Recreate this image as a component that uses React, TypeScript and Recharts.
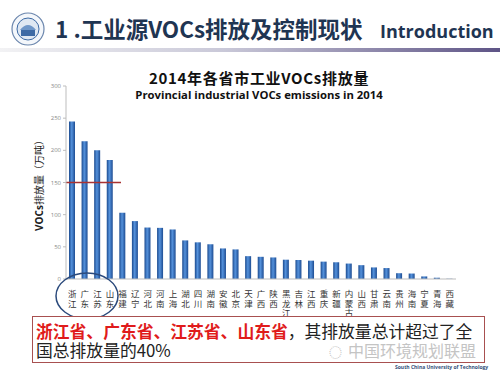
import { BarChart, Bar, XAxis, YAxis, ReferenceLine } from 'recharts';

// province names, in the order drawn
const provinces = [
  '浙江', '广东', '江苏', '山东', '福建', '辽宁', '河北', '河南', '上海', '湖北',
  '四川', '湖南', '安徽', '北京', '天津', '广西', '陕西', '黑龙江', '吉林', '江西',
  '重庆', '新疆', '内蒙古', '山西', '甘肃', '云南', '贵州', '海南', '宁夏', '青海', '西藏'
];

// industrial VOCs emissions, 10k tonnes
const emissions = [
  245, 214, 200, 185, 103, 90, 80, 79.5, 77, 60,
  57, 54, 47.5, 46, 35.5, 34.5, 33.5, 30, 29.5, 28.5,
  27, 26, 24, 21.5, 18, 17, 9, 8.5, 4, 2, 0.4
];

const yTicks = [0, 50, 100, 150, 200, 250, 300];

const chartData = provinces.map((name, i) => ({ name, value: emissions[i] }));

const CJK = '"Noto Sans CJK SC", "Noto Sans", sans-serif';
const LATIN = '"Open Sans", "Noto Sans CJK SC", sans-serif';

// Excel-style vertical category label, written top to bottom
const StackedTick = (props: any) => {
  const { x, y, payload } = props;
  return (
    <text
      x={x}
      y={y + 3}
      fontSize={8.5}
      fill="#333"
      fontFamily={CJK}
      style={{ writingMode: 'vertical-rl', letterSpacing: 1 }}
    >
      {payload.value}
    </text>
  );
};

// short red marker at 150, only across the first four bars
const ShortLine = (p: any) => (
  <line x1={p.x1} y1={p.y1} x2={p.x1 + 55} y2={p.y1} stroke="#a83232" strokeWidth={1.6} />
);

const App = () => {
  return (
    <div style={{ position: 'absolute', left: 0, top: 0, width: 500, height: 375, overflow: 'hidden', background: '#fff' }}>
      {/* slide header */}
      <svg width={500} height={60} style={{ position: 'absolute', left: 0, top: 0 }}>
        <defs>
          <linearGradient id="rule" x1="0" x2="1" y1="0" y2="0">
            <stop offset="0%" stopColor="#f2f2f4" />
            <stop offset="45%" stopColor="#c9c8d8" />
            <stop offset="100%" stopColor="#5e5486" />
          </linearGradient>
        </defs>
        <circle cx={28} cy={29} r={16} fill="#f4f7fb" stroke="#6b86ad" strokeWidth={1.2} />
        <circle cx={28} cy={29} r={11} fill="#dfe8f3" stroke="#3d6aa5" strokeWidth={1} />
        <rect x={21} y={30} width={14} height={6} fill="#3d6aa5" />
        <path d="M20 30 Q28 20 36 30" fill="#6f97c9" />
        <text x={55} y={38} fontSize={22.5} fontWeight={700} fill="#1f3552" fontFamily={CJK}>1 .工业源VOCs排放及控制现状</text>
        <text x={380} y={38} fontSize={18} fontWeight={700} fill="#1f3552" fontFamily={LATIN}>Introduction</text>
        <rect x={0} y={48} width={500} height={4} fill="url(#rule)" />
      </svg>

      {/* chart titles */}
      <div style={{ position: 'absolute', left: 0, top: 67, width: 518, textAlign: 'center', fontFamily: CJK, fontWeight: 700, fontSize: 15, color: '#111', letterSpacing: 0.7 }}>
        2014年各省市工业VOCs排放量
      </div>
      <div style={{ position: 'absolute', left: 0, top: 87, width: 518, textAlign: 'center', fontFamily: LATIN, fontWeight: 700, fontSize: 11.3, color: '#111' }}>
        Provincial industrial VOCs emissions in 2014
      </div>

      <div style={{ position: 'absolute', left: 0, top: 0 }}>
        <BarChart
          width={500}
          height={375}
          data={chartData}
          margin={{ top: 86, right: 44, bottom: 56, left: 46 }}
          barSize={6}
        >
          <defs>
            <linearGradient id="barFill" x1="0" x2="1" y1="0" y2="0">
              <stop offset="0%" stopColor="#1b4a8e" />
              <stop offset="45%" stopColor="#5592dc" />
              <stop offset="100%" stopColor="#1d4c92" />
            </linearGradient>
          </defs>
          <XAxis
            dataKey="name"
            interval={0}
            height={40}
            tickLine={false}
            axisLine={{ stroke: '#bdbdbd' }}
            tick={<StackedTick />}
          />
          <YAxis
            width={20}
            domain={[0, 300]}
            ticks={yTicks}
            tickSize={3}
            tickLine={{ stroke: '#bdbdbd' }}
            axisLine={{ stroke: '#bdbdbd' }}
            tick={{ fontSize: 6, fill: '#888', fontFamily: LATIN }}
          />
          <Bar dataKey="value" fill="url(#barFill)" isAnimationActive={false} />
          <ReferenceLine y={150} shape={ShortLine} />
        </BarChart>
      </div>

      {/* y axis title and the ellipse around the top four provinces */}
      <svg width={500} height={375} style={{ position: 'absolute', left: 0, top: 0, pointerEvents: 'none' }}>
        <text x={40} y={183} transform="rotate(-90 40 183)" textAnchor="middle" dominantBaseline="middle" fontSize={10} fill="#222" fontFamily={CJK}>
          <tspan fontWeight={700} fontFamily={LATIN}>VOCs</tspan>排放量（万吨）
        </text>
        <ellipse cx={87} cy={296} rx={31} ry={23} fill="none" stroke="#2b4a7c" strokeWidth={1.5} />
      </svg>

      {/* conclusion box */}
      <div style={{ position: 'absolute', left: 32, top: 316, width: 451, height: 45, border: '1px solid #a85050', background: '#fff', boxSizing: 'content-box' }}>
        <div style={{ position: 'absolute', left: 3, top: 6, fontSize: 16.8, lineHeight: '17px', fontFamily: CJK, color: '#222', whiteSpace: 'nowrap' }}>
          <span style={{ color: '#e01b1b', fontWeight: 700 }}>浙江省、广东省、江苏省、山东省</span>，其排放量总计超过了全
        </div>
        <div style={{ position: 'absolute', left: 3, top: 25, fontSize: 16.8, lineHeight: '17px', fontFamily: CJK, color: '#222', whiteSpace: 'nowrap' }}>
          国总排放量的40%
        </div>
        <div style={{ position: 'absolute', left: 296, top: 25, fontSize: 16, lineHeight: '17px', fontFamily: CJK, color: '#c4c4c4', whiteSpace: 'nowrap' }}>
          <span style={{ fontSize: 13, marginRight: 6 }}>◌</span>中国环境规划联盟
        </div>
      </div>
      <div style={{ position: 'absolute', left: 395, top: 364, fontSize: 5, fontFamily: LATIN, fontWeight: 700, color: '#34507a', whiteSpace: 'nowrap' }}>
        South China University of Technology
      </div>
    </div>
  );
};

export default App;
